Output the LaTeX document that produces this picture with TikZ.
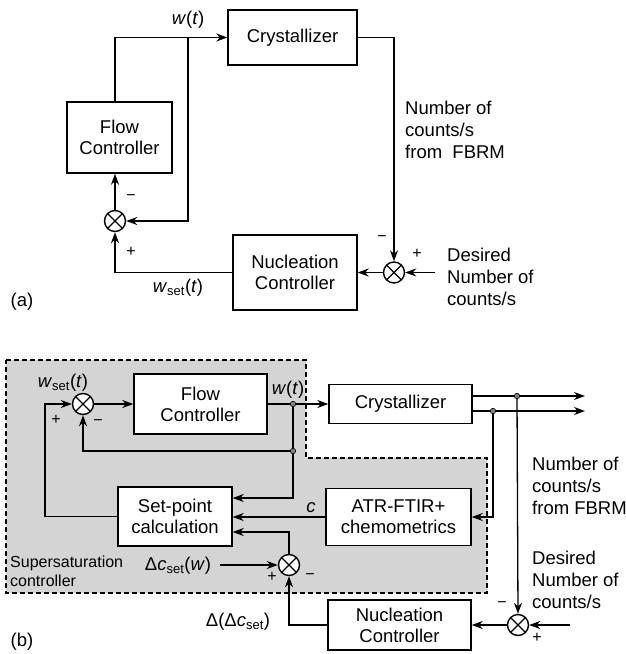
\documentclass[tikz,border=0pt]{standalone}
\usepackage{fontspec}
\setmainfont{Liberation Sans}
\usetikzlibrary{arrows.meta,positioning,calc}
\definecolor{ctrlfill}{HTML}{D4D4D4}
\definecolor{tapfill}{HTML}{808080}

\newcommand{\wtlbl}{\textit{w}(\textit{t})}
\newcommand{\wsetlbl}{\textit{w}\textsubscript{set}(\textit{t})}

\begin{document}
\begin{tikzpicture}[x=1pt, y=-1pt,
  box/.style={draw, line width=1.4pt, fill=white, align=center, inner sep=0pt, font=\fontsize{18.5}{21}\selectfont},
  summer/.style={draw, circle, line width=1.4pt, fill=white, minimum size=21pt, inner sep=0pt,
    path picture={\draw[line width=1.2pt] (path picture bounding box.north west) -- (path picture bounding box.south east)
      (path picture bounding box.north east) -- (path picture bounding box.south west);}},
  tap/.style={draw, circle, fill=tapfill, minimum size=5.5pt, inner sep=0pt, line width=0.6pt},
  lbl/.style={font=\fontsize{18.5}{22}\selectfont, inner sep=0pt, align=left},
  sgn/.style={font=\fontsize{16}{16}\selectfont, inner sep=0pt},
  arr/.style={-{Stealth[length=11pt, width=8pt, inset=3.5pt]}, line width=1.3pt},
  ln/.style={line width=1.3pt}
]
  \useasboundingbox (0,0) rectangle (626,654);

  % (a) nucleation control loop
  \node[box, minimum width=129pt, minimum height=55pt] (crysA) at (292.5,37.5) {Crystallizer};
  \node[box, minimum width=105pt, minimum height=71pt] (flowA) at (119.5,137.5) {Flow\\Controller};
  \node[summer] (sumA) at (115,221) {};
  \node[box, minimum width=124pt, minimum height=75pt] (nucA) at (295,272.5) {Nucleation\\Controller};
  \node[summer] (cmpA) at (394,272.5) {};
  \coordinate (wA) at (188,37.5);
  \coordinate (refA) at (435,272.5);

  \draw[arr] (flowA.north -| sumA) |- (crysA.west);
  \draw[arr] (wA) |- (sumA.east);
  \draw[arr] (sumA.north) -- (flowA.south -| sumA);
  \draw[arr] (nucA.west) -| (sumA.south);
  \draw[arr] (crysA.east) -| (cmpA.north);
  \draw[arr] (refA) -- (cmpA.east);
  \draw[arr] (cmpA.west) -- (nucA.east);

  \node[lbl] (wlblA) at (188,20) {\wtlbl};
  \node[lbl] (wsetA) at (178,288) {\wsetlbl};
  \node[sgn] (mA) at (131,198) {−};
  \node[sgn] (pA) at (131,252) {+};
  \node[sgn] (mA2) at (382,239) {−};
  \node[sgn] (pA2) at (417,254) {+};
  \node[lbl, anchor=west] (fbrmA) at (405,130) {Number of\\counts/s\\from\ \ FBRM};
  \node[lbl, anchor=west] (desA) at (447,277) {Desired\\Number of\\counts/s};
  \node[lbl] (capA) at (22,302) {(a)};

  % (b) supersaturation control with nucleation loop
  \fill[ctrlfill] (6,360) -- (306,360) -- (306,458) -- (487,458) -- (487,593) -- (6,593) -- cycle;
  \draw[line width=1.1pt, dash pattern=on 5pt off 3pt] (6,360) -- (306,360) -- (306,458) -- (487,458) -- (487,593) -- (6,593) -- cycle;

  \node[summer] (sumB) at (83,404) {};
  \node[box, minimum width=133pt, minimum height=60pt] (flowB) at (200.5,404) {Flow\\Controller};
  \node[box, minimum width=143pt, minimum height=39pt] (crysB) at (400.5,404) {Crystallizer};
  \node[box, minimum width=114pt, minimum height=59pt] (setB) at (175,516.5) {Set-point\\calculation};
  \node[box, minimum width=145pt, minimum height=57pt] (atrB) at (398.5,517) {ATR-FTIR+\\chemometrics};
  \node[summer] (cmpB) at (289,565) {};
  \node[box, minimum width=143pt, minimum height=50pt] (nucB) at (399.5,625) {Nucleation\\Controller};
  \node[summer] (cmpN) at (518,625) {};
  \coordinate (tapw) at (293,404);
  \coordinate (tapfb) at (293,451);
  \coordinate (tapN) at (517,396);
  \coordinate (tapA) at (493,411);
  \coordinate (loopB) at (45,404);
  \coordinate (outN) at (585,396);
  \coordinate (outA) at (585,411);
  \coordinate (refB) at (570,625);
  \coordinate (dcin) at (220,565);

  \draw[arr] (sumB.east) -- (flowB.west);
  \draw[ln] (flowB.east) -- (tapw);
  \draw[arr] (tapw) -- (crysB.west);
  \draw[ln] (tapw) -- (tapfb);
  \draw[arr] (tapfb) -| (sumB.south);
  \draw[arr] (tapfb) |- ($(setB.east)+(0,-18.5)$);
  \draw[arr] (atrB.west) -- (setB.east |- atrB.west);
  \draw[arr] (cmpB.north) |- ($(setB.east)+(0,15.5)$);
  \draw[arr] (setB.west) -| (loopB) -- (sumB.west);
  \draw[arr] (dcin) -- (cmpB.west);
  \draw[arr] (nucB.west) -| (cmpB.south);
  \draw[arr] (crysB.east |- tapN) -- (outN);
  \draw[arr] (crysB.east |- tapA) -- (outA);
  \draw[arr] (tapA) |- (atrB.east);
  \draw[arr] (tapN) -- (cmpN.north);
  \draw[arr] (refB) -- (cmpN.east);
  \draw[arr] (cmpN.west) -- (nucB.east);

  \node[tap] (dotw) at (tapw) {};
  \node[tap] (dotfb) at (tapfb) {};
  \node[tap] (dotN) at (tapN) {};
  \node[tap] (dotA) at (tapA) {};

  \node[lbl] (wsetB) at (63,383) {\wsetlbl};
  \node[sgn] (pB) at (56,420) {+};
  \node[sgn] (mB) at (98,423) {−};
  \node[lbl] (wlblB) at (288,390) {\wtlbl};
  \node[lbl] (clbl) at (311,508) {\textit{c}};
  \node[lbl] (dclbl) at (178,566) {Δ\textit{c}\textsubscript{set}(\textit{w})};
  \node[sgn] (pB2) at (272,577) {+};
  \node[sgn] (mB2) at (310,577) {−};
  \node[lbl] (ddclbl) at (238,622) {Δ(Δ\textit{c}\textsubscript{set})};
  \node[font=\fontsize{16}{19}\selectfont, align=left, anchor=west, inner sep=0pt] (sslbl) at (10,571) {Supersaturation\\controller};
  \node[sgn] (mN) at (502,605) {−};
  \node[sgn] (pN) at (537,638) {+};
  \node[lbl, anchor=west] (fbrmB) at (532,486) {Number of\\counts/s\\from FBRM};
  \node[lbl, anchor=west] (desB) at (532,580) {Desired\\Number of\\counts/s};
  \node[lbl] (capB) at (22,642) {(b)};
\end{tikzpicture}
\end{document}
